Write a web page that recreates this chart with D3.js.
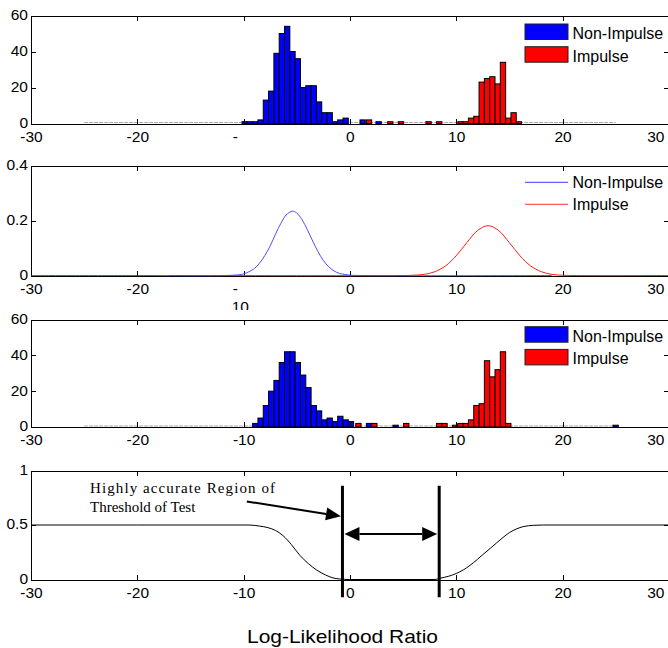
<!DOCTYPE html>
<html>
<head>
<meta charset="utf-8">
<script src="https://cdn.jsdelivr.net/npm/d3@7"></script>
<style>
  body { margin: 0; background: #fff; }
  svg { display: block; }
  svg text { font-family: "Liberation Sans", Arial, sans-serif; font-size: 15.5px; fill: #000; }
  svg text.legend { font-size: 16px; }
  svg text.note { font-family: "Liberation Serif", "Times New Roman", serif; font-size: 15px; }
  svg text.xlabel { font-size: 18.5px; }
</style>
</head>
<body>
<svg id="chart" width="668" height="648"></svg>
<script>
// ---- data ----
const xTicks = [-30, -20, -10, 0, 10, 20, 30];
const legendLabels = ['Non-Impulse', 'Impulse'];
const seriesColors = ['#0000ff', '#ff0000'];

// panel 1 histogram (bin width 0.5): bin centres and counts
const blueCenters1 = [-9.9, -9.4, -8.9, -8.4, -7.9, -7.4, -6.9, -6.4, -5.9, -5.4, -4.9, -4.4, -3.9, -3.4, -2.9, -2.4, -1.9, -1.4, -0.9, -0.4, 1.2, 2.7];
const blueCounts1  = [1, 1, 1, 2, 13, 18, 39, 50, 54, 40, 36, 20, 21, 21, 12, 6, 6, 1, 2, 3, 2, 1];
const redCenters1  = [1.8, 3.8, 4.8, 7.4, 8.4, 10.4, 10.9, 11.4, 11.9, 12.4, 12.9, 13.4, 13.9, 14.4, 14.9, 15.4, 15.9];
const redCounts1   = [2, 1, 1, 1, 1, 1, 1, 3, 4, 23, 25, 26, 22, 34, 3, 6, 1];

// panel 2 density curves
const blueDensX = [-30, -20, -11, -10, -9, -8.5, -8, -7.5, -7, -6.5, -6, -5.4, -5, -4.5, -4, -3.5, -3, -2.5, -2, -1.5, -1, 0, 1, 19];
const blueDensY = [0, 0, 0.001, 0.006, 0.025, 0.045, 0.073, 0.108, 0.151, 0.19, 0.221, 0.235, 0.228, 0.204, 0.167, 0.126, 0.087, 0.055, 0.032, 0.017, 0.008, 0.0015, 0, 0];
const redDensX  = [-17, 5, 6, 7, 8, 9, 10, 11, 12, 13, 14, 15, 16, 17, 18, 19, 20, 21, 30];
const redDensY  = [0, 0, 0.001, 0.004, 0.014, 0.035, 0.072, 0.12, 0.164, 0.182, 0.164, 0.12, 0.072, 0.035, 0.014, 0.004, 0.001, 0, 0];

// panel 3 histogram
const blueCenters3 = [-8.9, -8.4, -7.9, -7.4, -6.9, -6.4, -5.9, -5.4, -4.9, -4.4, -3.9, -3.4, -2.9, -2.4, -1.9, -1.4, -0.9, -0.4, 0.1, 1.8, 4.3, 25.0];
const blueCounts3  = [2, 5, 12, 20, 26, 36, 42, 42, 36, 29, 22, 12, 9, 4, 5, 3, 6, 4, 3, 2, 1, 1];
const redCenters3  = [0.8, 2.3, 5.3, 8.4, 8.9, 9.9, 10.4, 10.9, 11.4, 11.9, 12.4, 12.9, 13.4, 13.9, 14.4, 14.9];
const redCounts3   = [2, 2, 2, 2, 2, 1, 2, 2, 4, 12, 13, 37, 28, 32, 42, 2];

// panel 4 curve
const errX = [-30, -20, -9.5, -8.5, -7.8, -7, -6.3, -5.5, -4.7, -3.9, -3.1, -2.3, -1.6, -1, 0, 8, 8.5, 9.3, 10, 10.7, 11.3, 12, 12.5, 13.2, 13.8, 14.4, 15, 15.7, 16.3, 17.3, 18.2, 30];
const errY = [0.5, 0.5, 0.5, 0.49, 0.478, 0.45, 0.403, 0.32, 0.221, 0.145, 0.085, 0.042, 0.015, 0.005, 0, 0, 0.012, 0.03, 0.055, 0.09, 0.13, 0.185, 0.228, 0.285, 0.336, 0.385, 0.43, 0.465, 0.485, 0.497, 0.5, 0.5];
const thresholds = [-0.7, 8.4];
const noteLines = ['Highly accurate Region of', 'Threshold of Test'];
const xLabel = 'Log-Likelihood Ratio';

// ---- layout ----
const svg = d3.select('#chart');
const x = d3.scaleLinear().domain([-30, 30]).range([31, 668.8]);
const binW = 0.5;

const layout = [
  { top: 15.5, bottom: 123.5, yMax: 60, yTicks: [0, 20, 40, 60], clip: [0, 150], wrap: true },
  { top: 166, bottom: 275.5, yMax: 0.4, yTicks: [0, 0.2, 0.4], clip: [150, 310], wrap: true },
  { top: 319.5, bottom: 427, yMax: 60, yTicks: [0, 20, 40, 60], clip: [310, 462], wrap: false },
  { top: 470.5, bottom: 579.5, yMax: 1, yTicks: [0, 0.5, 1], clip: [462, 612], wrap: false }
];

function makePanel(i) {
  const p = layout[i];
  svg.append('clipPath').attr('id', 'clip' + i)
    .append('rect').attr('x', 0).attr('y', p.clip[0]).attr('width', 668).attr('height', p.clip[1] - p.clip[0]);
  const g = svg.append('g').attr('clip-path', `url(#clip${i})`);
  const y = d3.scaleLinear().domain([0, p.yMax]).range([p.bottom, p.top]);
  return { g, y, p };
}

function drawAxes({ g, y, p }) {
  const fmt = d => (p.wrap && d === -10) ? '' : String(d);
  const bottom = g.append('g').attr('transform', `translate(0,${p.bottom})`)
    .call(d3.axisBottom(x).tickValues(xTicks).tickSizeInner(-5).tickSizeOuter(0).tickPadding(7).tickFormat(fmt));
  // the last label sits inside the picture
  bottom.selectAll('.tick text').filter(d => d === 30).attr('text-anchor', 'end').attr('x', 664 - x(30));
  g.append('g').attr('transform', `translate(0,${p.top})`)
    .call(d3.axisTop(x).tickValues(xTicks).tickSizeInner(-5).tickSizeOuter(0).tickFormat(''));
  const left = g.append('g').attr('transform', `translate(${x(-30)},0)`)
    .call(d3.axisLeft(y).tickValues(p.yTicks).tickSizeInner(-5).tickSizeOuter(0).tickPadding(3).tickFormat(d => String(d)));
  left.selectAll('.tick text').attr('dy', '0.25em');
  g.append('g').attr('transform', `translate(${x(30)},0)`)
    .call(d3.axisRight(y).tickValues(p.yTicks).tickSizeInner(-5).tickSizeOuter(0).tickFormat(''));
  g.selectAll('.domain, .tick line').attr('stroke', '#000').attr('shape-rendering', 'crispEdges');
  if (p.wrap) {
    // "-10" wrapped onto two lines in the original
    g.append('text').attr('x', x(-10) - 8.3).attr('y', p.bottom + 18.5).attr('text-anchor', 'middle').text('-');
    g.append('text').attr('x', x(-10) - 3.3).attr('y', p.bottom + 36).attr('text-anchor', 'middle').text('10');
  }
}

function drawBars({ g, y }, centers, counts, color) {
  g.append('g').selectAll('rect')
    .data(d3.zip(centers, counts))
    .join('rect')
    .attr('x', d => x(d[0] - binW / 2))
    .attr('width', d => x(d[0] + binW / 2) - x(d[0] - binW / 2))
    .attr('y', d => y(d[1]))
    .attr('height', d => y(0) - y(d[1]))
    .attr('fill', color)
    .attr('stroke', '#000')
    .attr('stroke-width', 1);
}

function zeroBins({ g, y }) {
  g.append('line')
    .attr('x1', x(-25)).attr('x2', x(25))
    .attr('y1', y(0) - 1).attr('y2', y(0) - 1)
    .attr('stroke', '#aaa').attr('stroke-dasharray', '4,1');
}

function patchLegend({ g }, top) {
  legendLabels.forEach((name, i) => {
    const yy = top + i * 22.7;
    g.append('rect').attr('x', 525).attr('y', yy).attr('width', 43).attr('height', 15.5)
      .attr('fill', seriesColors[i]).attr('stroke', '#222');
    g.append('text').attr('class', 'legend').attr('x', 572.5).attr('y', yy + 15).text(name);
  });
}

// ---- panel 1 ----
const p1 = makePanel(0);
zeroBins(p1);
drawBars(p1, blueCenters1, blueCounts1, seriesColors[0]);
drawBars(p1, redCenters1, redCounts1, seriesColors[1]);
drawAxes(p1);
patchLegend(p1, 24);

// ---- panel 2 ----
const p2 = makePanel(1);
drawAxes(p2);
const line2 = d3.line().x(d => x(d[0])).y(d => p2.y(d[1])).curve(d3.curveCatmullRom);
p2.g.append('path').datum(d3.zip(blueDensX, blueDensY)).attr('d', line2)
  .attr('fill', 'none').attr('stroke', '#3a3aff').attr('stroke-width', 0.9);
p2.g.append('path').datum(d3.zip(redDensX, redDensY)).attr('d', line2)
  .attr('fill', 'none').attr('stroke', '#ff1a1a').attr('stroke-width', 1);
legendLabels.forEach((name, i) => {
  const yy = 182.3 + i * 22;
  p2.g.append('line').attr('x1', 525).attr('x2', 568).attr('y1', yy).attr('y2', yy)
    .attr('stroke', i === 0 ? '#3a3aff' : '#ff3030').attr('stroke-width', 1);
  p2.g.append('text').attr('class', 'legend').attr('x', 572.5).attr('y', yy + 6).text(name);
});

// ---- panel 3 ----
const p3 = makePanel(2);
zeroBins(p3);
drawBars(p3, blueCenters3, blueCounts3, seriesColors[0]);
drawBars(p3, redCenters3, redCounts3, seriesColors[1]);
drawAxes(p3);
patchLegend(p3, 326.7);

// ---- panel 4 ----
const p4 = makePanel(3);
drawAxes(p4);
const line4 = d3.line().x(d => x(d[0])).y(d => p4.y(d[1])).curve(d3.curveMonotoneX);
p4.g.append('path').datum(d3.zip(errX, errY)).attr('d', line4)
  .attr('fill', 'none').attr('stroke', '#000').attr('stroke-width', 1);

function arrowHead(g, x1, y1, x2, y2, len, half) {
  const a = Math.atan2(y2 - y1, x2 - x1);
  const bx = x2 - len * Math.cos(a), by = y2 - len * Math.sin(a);
  const px = -Math.sin(a) * half, py = Math.cos(a) * half;
  g.append('polygon').attr('points', `${x2},${y2} ${bx + px},${by + py} ${bx - px},${by - py}`).attr('fill', '#000');
  return [bx, by];
}

const ann = svg.append('g');
thresholds.forEach(t => {
  ann.append('line').attr('x1', x(t)).attr('x2', x(t))
    .attr('y1', p4.y(0.86)).attr('y2', p4.y(-0.163))
    .attr('stroke', '#000').attr('stroke-width', 3);
});
// double arrow between thresholds
const ay = p4.y(0.417);
const xa = x(thresholds[0]) + 2, xb = x(thresholds[1]) - 2;
const [lb] = arrowHead(ann, xb, ay, xa, ay, 15, 7);
const [rb] = arrowHead(ann, xa, ay, xb, ay, 15, 7);
ann.append('line').attr('x1', lb).attr('x2', rb).attr('y1', ay).attr('y2', ay)
  .attr('stroke', '#000').attr('stroke-width', 2);
// pointer from the note
const sx = x(-9.7), sy = p4.y(0.716), ex = x(thresholds[0]) - 1.5, ey = p4.y(0.58);
const [hx, hy] = arrowHead(ann, sx, sy, ex, ey, 15, 6.5);
ann.append('line').attr('x1', sx).attr('y1', sy).attr('x2', hx).attr('y2', hy)
  .attr('stroke', '#000').attr('stroke-width', 2);

ann.append('text').attr('class', 'note').attr('x', 90).attr('y', 493)
  .attr('textLength', 185).attr('lengthAdjust', 'spacing').text(noteLines[0]);
ann.append('text').attr('class', 'note').attr('x', 90).attr('y', 512).text(noteLines[1]);

svg.append('text').attr('class', 'xlabel').attr('x', 342.5).attr('y', 642.5)
  .attr('text-anchor', 'middle').attr('textLength', 191).attr('lengthAdjust', 'spacingAndGlyphs')
  .text(xLabel);
</script>
</body>
</html>
